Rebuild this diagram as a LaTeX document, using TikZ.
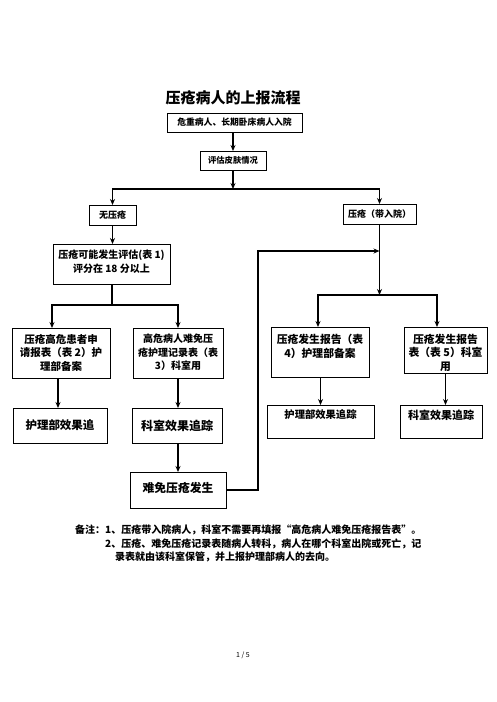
\documentclass[tikz,border=0pt]{standalone}
\usepackage{fontspec}
\newfontfamily\cjk{Noto Sans CJK SC}
\usetikzlibrary{arrows.meta}
\newcommand\fsz[2]{\cjk\bfseries\fontsize{#1}{#2}\selectfont}
\begin{document}
\begin{tikzpicture}[x=1pt,y=-1pt,
  box/.style={draw, line width=0.8pt, inner sep=0pt, outer sep=0pt, anchor=north west},
  txt/.style={inner sep=0pt, align=center},
  arr/.style={line width=1.1pt, -{Stealth[length=6pt,width=5pt]}},
  ln/.style={line width=1.1pt}]
\useasboundingbox (0,0) rectangle (496,702);

\node[txt, font=\fsz{15}{18}] (title) at (233,98) {压疮病人的上报流程};

\node[box, minimum width=135pt, minimum height=19pt] (b1) at (167,113) {};
\node[txt, font=\fsz{8.8}{10}] (t1) at (b1.center) {危重病人、长期卧床病人入院};

\node[box, minimum width=66pt, minimum height=19pt] (b2) at (200,151) {};
\node[txt, font=\fsz{8.3}{10}] (t2) at (b2.center) {评估皮肤情况};

\node[box, minimum width=47pt, minimum height=20pt] (n1) at (89,205) {};
\node[txt, font=\fsz{9}{10}] (tn1) at (n1.center) {无压疮};

\node[box, minimum width=73pt, minimum height=20pt] (n2) at (343,204) {};
\node[txt, font=\fsz{9}{10}] (tn2) at (n2.center) {压疮（带入院）};

\node[box, minimum width=117pt, minimum height=40pt] (a1) at (53,244) {};
\node[txt, font=\fsz{10}{14}] (ta1) at (111.5,262) {压疮可能发生评估(表 1)\\评分在 18 分以上};

\node[box, minimum width=98pt, minimum height=50pt] (l1) at (12,328) {};
\node[txt, font=\fsz{10.5}{13.5}] (tl1) at (61,352.5) {压疮高危患者申\\请报表（表 2）护\\理部备案};

\node[box, minimum width=90pt, minimum height=50pt] (l2) at (133,328) {};
\node[txt, font=\fsz{10}{13.5}] (tl2) at (178,352.5) {高危病人难免压\\疮护理记录表（表\\3）科室用};

\node[box, minimum width=94pt, minimum height=35pt] (l1b) at (13,408) {};
\node[txt, font=\fsz{11.5}{13}] (tl1b) at (l1b.center) {护理部效果追};

\node[box, minimum width=90pt, minimum height=35pt] (l2b) at (132,408) {};
\node[txt, font=\fsz{12}{13}] (tl2b) at (l2b.center) {科室效果追踪};

\node[box, minimum width=96pt, minimum height=36pt] (l3) at (130,472) {};
\node[txt, font=\fsz{11.8}{13}] (tl3) at (178,488) {难免压疮发生};

\node[box, minimum width=98pt, minimum height=50pt] (r1) at (271,327) {};
\node[txt, font=\fsz{10.8}{14}] (tr1) at (320,346) {压疮发生报告（表\\4）护理部备案};

\node[box, minimum width=83pt, minimum height=46pt] (r2) at (404,327) {};
\node[txt, font=\fsz{10.8}{13.5}] (tr2) at (445.5,352.5) {压疮发生报告\\表（表 5）科室\\用};

\node[box, minimum width=107pt, minimum height=33pt] (r1b) at (267,405) {};
\node[txt, font=\fsz{10.3}{12}] (tr1b) at (320.5,415) {护理部效果追踪};

\node[box, minimum width=82pt, minimum height=33pt] (r2b) at (400,405) {};
\node[txt, font=\fsz{11}{12}] (tr2b) at (441,415) {科室效果追踪};

% connectors
\coordinate (s1) at (233,189);
\coordinate (s2) at (112,305);
\coordinate (s3) at (379.5,295);
\coordinate (c1) at (258,251);
\coordinate (c2) at (379.5,251);

\draw[arr] (b1.south -| b2.north) -- (b2.north);
\draw[arr] (b2.south) -- (s1);
\draw[arr] (s1) -| (n1.north);
\draw[arr] (s1) -| (n2.north);
\draw[arr] (n1.south) -- (n1.south |- a1.north);
\draw[ln] (a1.south -| s2) -- (s2);
\draw[arr] (s2) -| ([xshift=40pt]l1.north west);
\draw[arr] (s2) -| (l2.north);
\draw[arr] ([xshift=46pt]l1.south west) -- ([xshift=45pt]l1b.north west);
\draw[arr] (l2.south) -- (l2.south |- l2b.north);
\draw[arr] (l2b.south -| l2.south) -- (l2.south |- l3.north);
\draw[arr] (l3.east) -| (c1) -- (c2);
\draw[arr] (n2.south) -- (s3);
\draw[arr] (s3) -| ([xshift=-2pt]r1.north);
\draw[arr] (s3) -| ([xshift=33pt]r2.north west);
\draw[arr] (r1.south -| tr1b) -- (tr1b |- r1b.north);
\draw[arr] (r2.south) -- (r2.south |- r2b.north);

% notes
\node[txt, anchor=west, font=\fsz{10}{12}] (note1) at (75,530) {备注：1、压疮带入院病人，科室不需要再填报“高危病人难免压疮报告表”。};
\node[txt, anchor=west, font=\fsz{10}{12}] (note2) at (105,544) {2、压疮、难免压疮记录表随病人转科，病人在哪个科室出院或死亡，记};
\node[txt, anchor=west, font=\fsz{10}{12}] (note3) at (115,557) {录表就由该科室保管，并上报护理部病人的去向。};

\node[txt, font=\cjk\fontsize{7}{8}\selectfont] (pg) at (243,655) {1 / 5};
\end{tikzpicture}
\end{document}
